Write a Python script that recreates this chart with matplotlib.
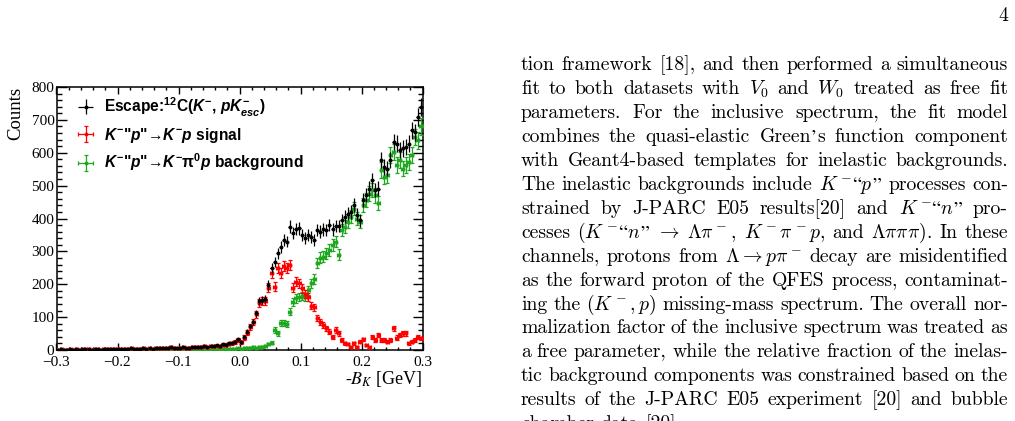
import re
import matplotlib
matplotlib.use("Agg")
import matplotlib.pyplot as plt
import numpy as np
from matplotlib.ticker import MultipleLocator, FuncFormatter

# fonts: legend uses bold Arial-like text with bold math, axes use Times-like serif
plt.rcParams["font.family"] = "Liberation Serif"
plt.rcParams["mathtext.fontset"] = "custom"
plt.rcParams["mathtext.rm"] = "Liberation Sans:bold"
plt.rcParams["mathtext.it"] = "Liberation Sans:bold:italic"
plt.rcParams["mathtext.bf"] = "Liberation Sans:bold"
plt.rcParams["mathtext.sf"] = "Liberation Sans:bold"

W, H = 1015, 421

# histogram binning (GeV)
bin_lo, bin_hi, n_bins = -0.3, 0.3, 120

# Escape: 12C(K-, pK-esc) total spectrum
total_counts = [
    1, 2, 0, 1, 2, 1, 3, 1, 2, 2,
    2, 1, 3, 2, 1, 3, 2, 2, 3, 4,
    3, 2, 4, 3, 5, 3, 4, 4, 6, 4,
    5, 4, 6, 5, 7, 5, 6, 8, 5, 7,
    6, 8, 7, 6, 9, 8, 10, 9, 11, 10,
    12, 11, 14, 13, 17, 16, 20, 22, 25, 32,
    24, 40, 55, 72, 86, 112, 148, 152, 155, 198,
    248, 268, 294, 314, 334, 330, 375, 355, 368, 370,
    350, 340, 350, 343, 334, 365, 360, 367, 365, 380,
    367, 377, 377, 395, 405, 415, 420, 441, 412, 395,
    455, 471, 491, 517, 486, 491, 577, 557, 552, 577,
    633, 628, 608, 613, 618, 628, 669, 663, 709, 740,
]

# K- "p" -> K- p signal
signal_counts = [
    1, 2, 0, 1, 2, 1, 3, 1, 2, 2,
    2, 1, 3, 2, 1, 3, 2, 2, 3, 4,
    3, 2, 4, 3, 5, 3, 4, 4, 6, 4,
    5, 4, 6, 5, 7, 5, 6, 8, 5, 7,
    6, 8, 7, 6, 9, 8, 10, 9, 11, 9,
    12, 11, 13, 13, 16, 16, 19, 21, 24, 30,
    23, 38, 53, 70, 84, 108, 143, 148, 150, 190,
    235, 192, 250, 235, 255, 250, 258, 190, 208, 203,
    188, 170, 162, 135, 130, 97, 86, 76, 66, 56,
    40, 61, 51, 30, 20, 18, 10, 21, 10, 25,
    32, 15, 10, 40, 30, 46, 30, 30, 25, 30,
    66, 38, 46, 51, 51, 20, 25, 30, 40, 35,
]

# K- "p" -> K- pi0 p background
bkg_counts = [
    0, 0, 0, 0, 0, 0, 0, 0, 0, 0,
    0, 0, 0, 0, 0, 0, 0, 0, 0, 0,
    0, 0, 0, 0, 0, 0, 0, 0, 0, 0,
    0, 0, 0, 0, 0, 0, 0, 0, 0, 0,
    0, 0, 0, 1, 0, 1, 0, 1, 1, 2,
    1, 2, 1, 2, 3, 2, 3, 4, 3, 5,
    4, 5, 6, 6, 8, 7, 9, 10, 12, 18,
    22, 61, 51, 83, 81, 78, 117, 145, 157, 162,
    165, 162, 182, 203, 215, 265, 280, 284, 294, 304,
    320, 330, 290, 365, 375, 390, 405, 430, 400, 390,
    440, 456, 476, 486, 470, 446, 547, 527, 532, 593,
    603, 562, 577, 552, 562, 572, 593, 648, 638, 680,
]

legend_labels = [
    "Escape:$^{12}$C($K^{-}$, $pK^{-}_{esc}$)",
    '$K^{-}$"$p$"\u2192$K^{-}p$ signal',
    '$K^{-}$"$p$"\u2192$K^{-}\\mathrm{\\pi}^{0}p$ background',
]
series_colors = ["black", "#ff0000", "#1fa81f"]

page_lines = [
    "tion framework [18], and then performed a simultaneous",
    "fit to both datasets with $V_0$ and $W_0$ treated as free fit",
    "parameters. For the inclusive spectrum, the fit model",
    "combines the quasi-elastic Green\u2019s function component",
    "with Geant4-based templates for inelastic backgrounds.",
    "The inelastic backgrounds include $K^-$\u201c$p$\u201d processes con-",
    "strained by J-PARC E05 results[20] and $K^-$\u201c$n$\u201d pro-",
    "cesses ($K^-$\u201c$n$\u201d $\\rightarrow$ $\\Lambda\\pi^-$, $K^-\\pi^-p$, and $\\Lambda\\pi\\pi\\pi$). In these",
    "channels, protons from $\\Lambda\\rightarrow{}p\\pi^-$ decay are misidentified",
    "as the forward proton of the QFES process, contaminat-",
    "ing the $(K^-,p)$ missing-mass spectrum. The overall nor-",
    "malization factor of the inclusive spectrum was treated as",
    "a free parameter, while the relative fraction of the inelas-",
    "tic background components was constrained based on the",
    "results of the J-PARC E05 experiment [20] and bubble",
    "chamber data [20].",
]
page_number = "4"

edges = np.linspace(bin_lo, bin_hi, n_bins + 1)
centers = 0.5 * (edges[1:] + edges[:-1])
half_w = 0.5 * (edges[1] - edges[0])

fig = plt.figure(figsize=(W / 100, H / 100), dpi=100)
ax = fig.add_axes([56.5 / W, 1 - 350 / H, 366 / W, 263 / H])

all_counts = [total_counts, signal_counts, bkg_counts]
conts = {}
for k in [2, 1, 0]:
    y = np.array(all_counts[k], dtype=float)
    conts[k] = ax.errorbar(centers, y, yerr=np.sqrt(y), xerr=half_w, fmt="o",
                           ms=1.8, color=series_colors[k], ecolor=series_colors[k],
                           elinewidth=0.9, capsize=0 if k == 0 else 1.3,
                           capthick=0.9, zorder=5 - k)
handles = [conts[0], conts[1], conts[2]]

ax.set_xlim(bin_lo, bin_hi)
ax.set_ylim(0, 800)
ax.xaxis.set_major_locator(MultipleLocator(0.1))
ax.xaxis.set_minor_locator(MultipleLocator(0.02))
ax.yaxis.set_major_locator(MultipleLocator(100))
ax.yaxis.set_minor_locator(MultipleLocator(20))


def fmt_x(v, pos):
    s = f"{v:.1f}"
    if s == "-0.0":
        s = "0.0"
    return s.replace("-", "\u2212")


ax.xaxis.set_major_formatter(FuncFormatter(fmt_x))
ax.yaxis.set_major_formatter(FuncFormatter(lambda v, p: f"{v:.0f}"))
ax.tick_params(which="both", direction="in", top=True, right=True, width=1,
               labelsize=11, colors="black")
ax.tick_params(axis="x", which="major", length=5, pad=4)
ax.tick_params(axis="x", which="minor", length=2.5)
ax.tick_params(axis="y", which="major", length=7, pad=1.5)
ax.tick_params(axis="y", which="minor", length=3.5)
for sp in ax.spines.values():
    sp.set_linewidth(1.1)

ax.set_ylabel("Counts", loc="top", fontsize=13.5, labelpad=5)
ax.set_xlabel(r"-$B_K$ [GeV]", loc="right", fontsize=13, labelpad=0,
              math_fontfamily="stix")

ax.legend(handles, legend_labels, loc="upper left", bbox_to_anchor=(0.052, 0.968),
          frameon=False, borderpad=0, borderaxespad=0, handlelength=1.3,
          handletextpad=0.5, labelspacing=0.45,
          prop={"family": ["Liberation Sans", "DejaVu Sans"], "weight": "bold",
                "size": 11.2})

# page text on the right, justified like the paper column
renderer = fig.canvas.get_renderer()
x_left, x_right = 521, 1008
body_font = {"family": "cmr10", "size": 14.2, "math_fontfamily": "cm"}
quote_font = {"family": "STIXGeneral", "size": 14.2}
quote_chars = "\u201c\u201d\u2019"


def make_word(word, y):
    # split off curly quotes, cmr10 has no proper glyph for them
    parts = [p for p in re.split("([\u201c\u201d\u2019])", word) if p]
    pieces = []
    for p in parts:
        kw = quote_font if p in quote_chars else body_font
        t = fig.text(0, y, p, va="baseline", ha="left", **kw)
        pieces.append((t, t.get_window_extent(renderer).width))
    return pieces


for i, line in enumerate(page_lines):
    base = 70.5 + 23.9 * i
    words = [make_word(w, 1 - base / H) for w in line.split()]
    widths = [sum(wd for _, wd in pcs) for pcs in words]
    if i < len(page_lines) - 1 and len(words) > 1:
        gap = (x_right - x_left - sum(widths)) / (len(words) - 1)
    else:
        gap = 6.5
    x = x_left
    for pcs, w in zip(words, widths):
        xp = x
        for t, wd in pcs:
            t.set_x(xp / W)
            xp += wd
        x += w + gap

fig.text(1008 / W, 1 - 21 / H, page_number, ha="right", va="baseline", **body_font)

fig.savefig("out.png", dpi=100)
